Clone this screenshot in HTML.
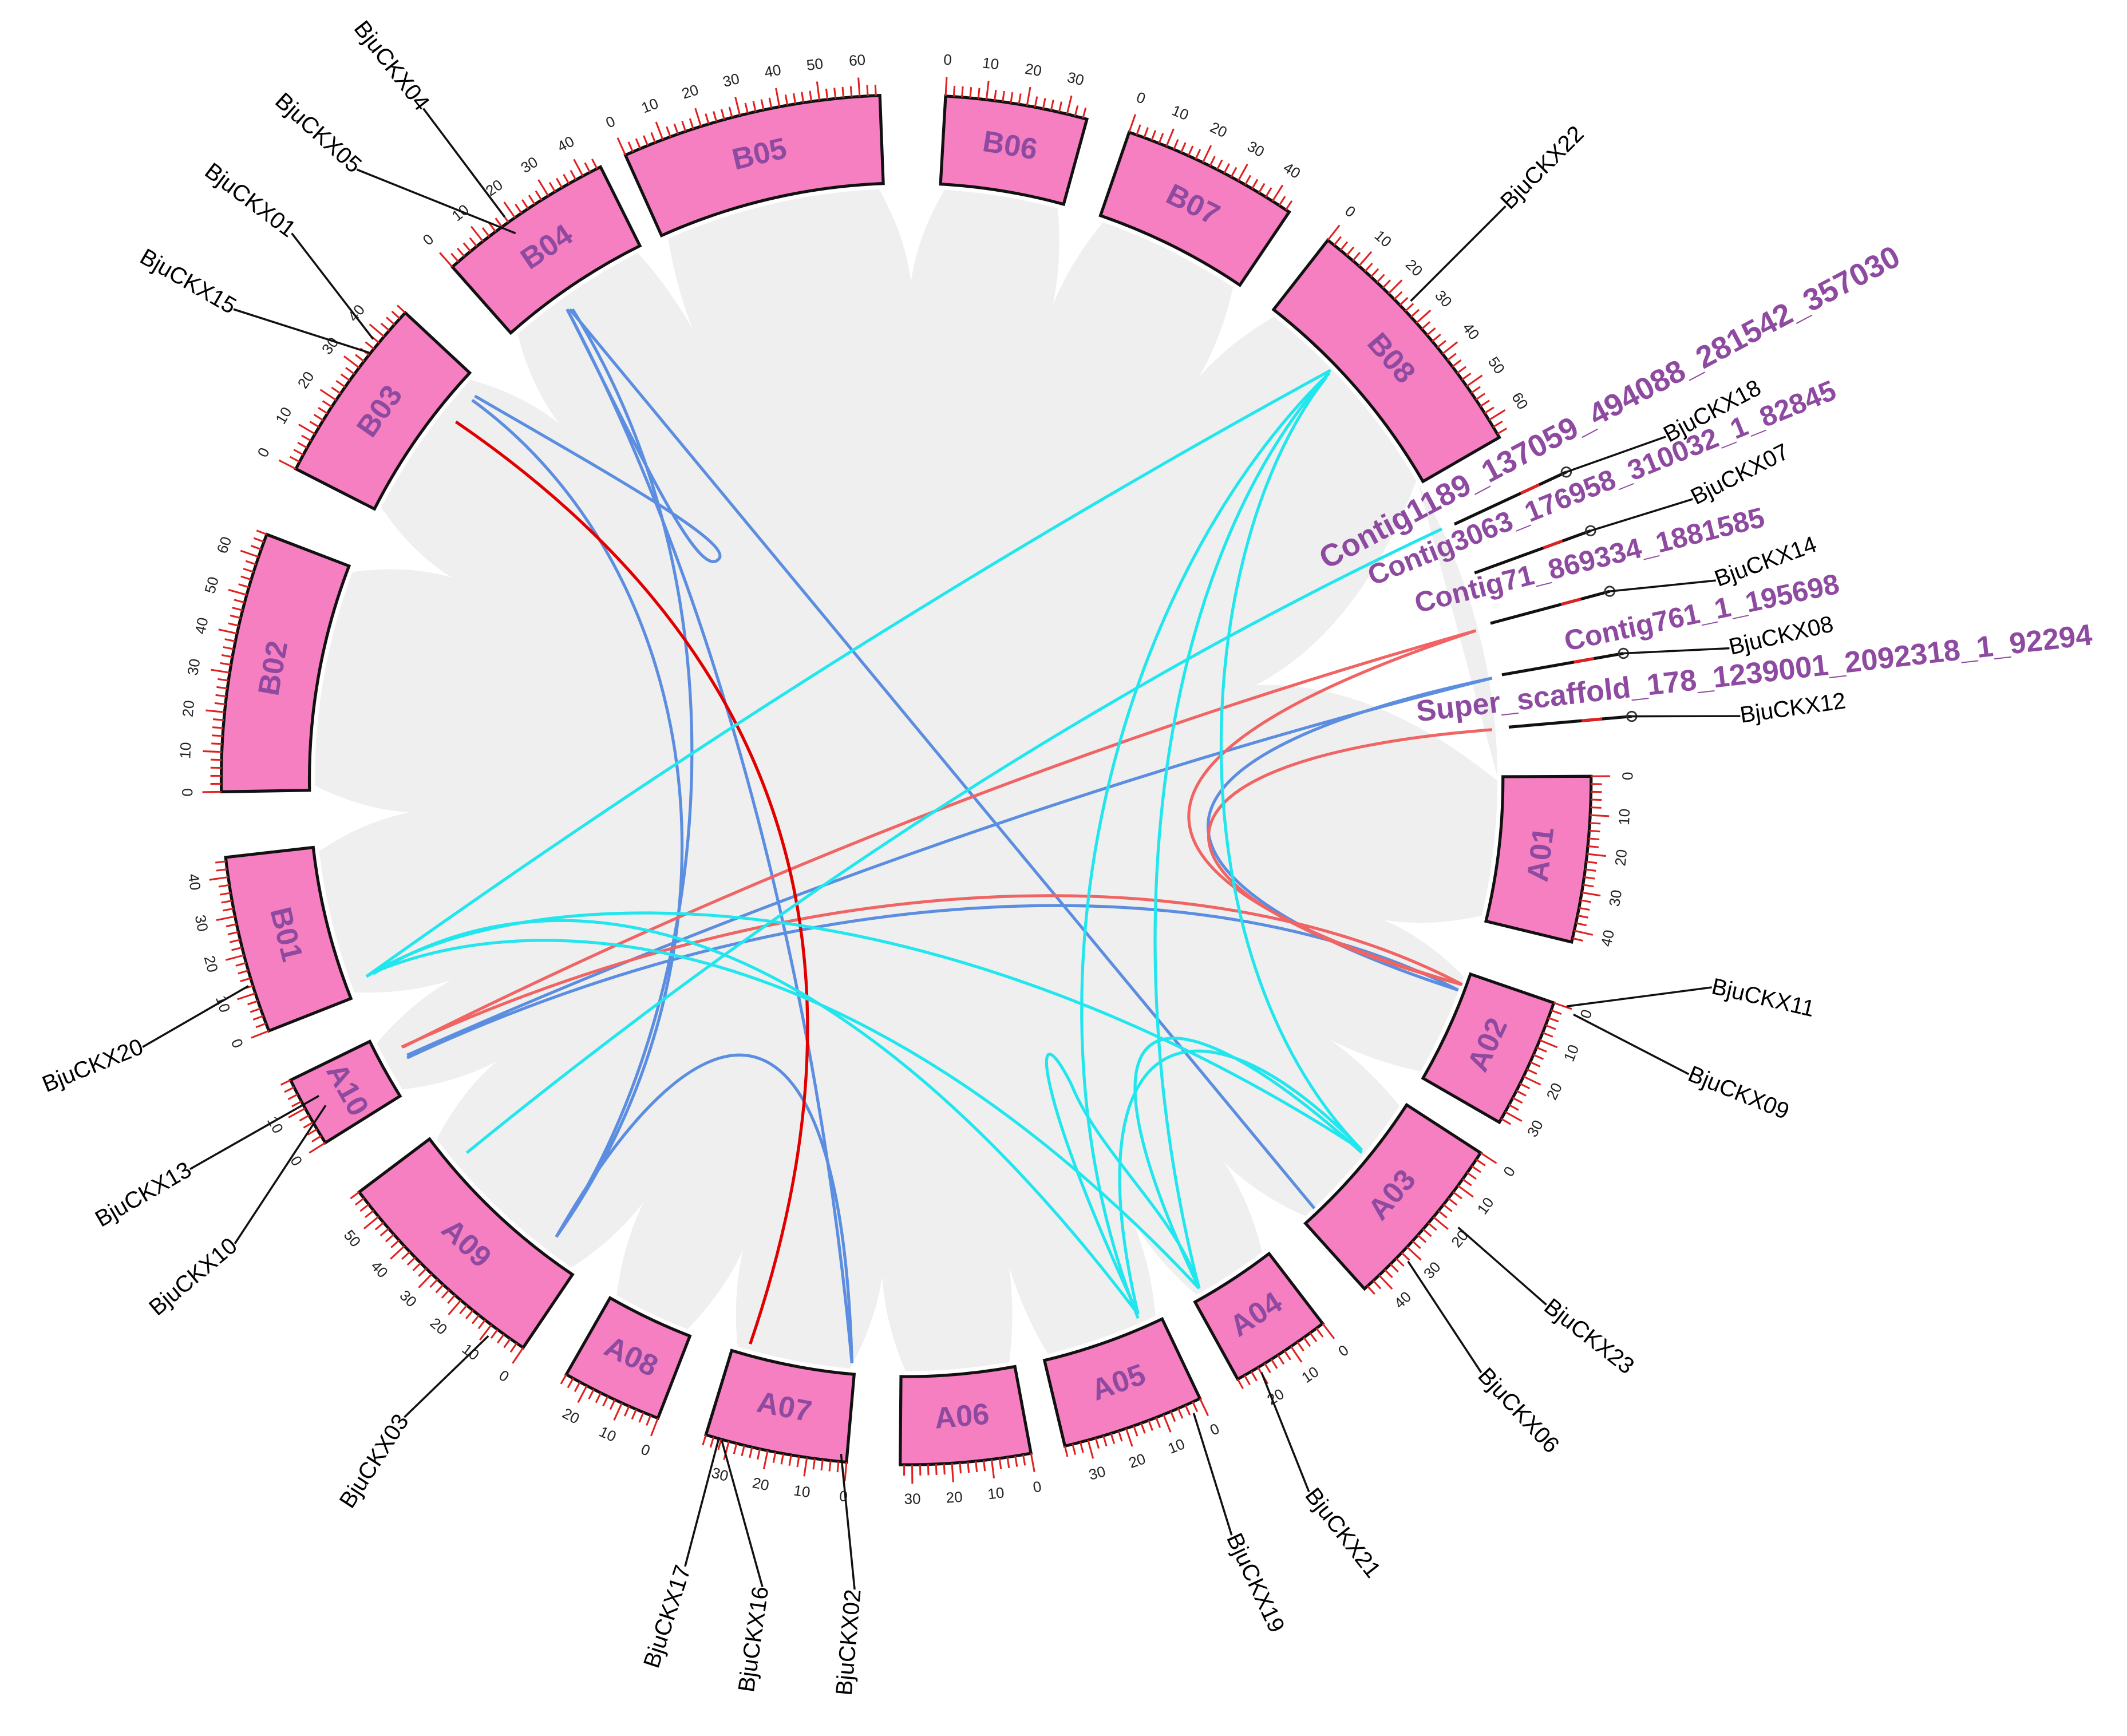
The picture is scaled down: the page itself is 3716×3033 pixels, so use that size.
<!DOCTYPE html>
<html><head><meta charset="utf-8"><style>
html,body{margin:0;padding:0;background:#fff;}
svg{display:block;}
text{font-family:"Liberation Sans",Arial,sans-serif;}
</style></head><body>
<svg id="s" xmlns="http://www.w3.org/2000/svg" width="3716" height="3033" viewBox="0 0 1568 1280">
<rect width="1568" height="1280" fill="#fff"/>
<circle cx="668" cy="575" r="436" fill="#efefef"/>
<g id="wedges"></g>
<g id="links" fill="none" stroke-width="2.2">
<g stroke="#5b8de0">
<path d="M420,228 L969,891"/>
<path d="M418,228 C520,420 600,700 628,1005"/>
<path d="M350,292 C450,350 540,400 530,412 C515,430 470,330 418,228"/>
<path d="M348,295 C520,420 560,700 410,912"/>
<path d="M422,228 C560,450 520,750 410,912"/>
<path d="M410,912 C520,720 620,720 628,1005"/>
<path d="M300,778 Q700,600 1100,500"/>
<path d="M1075,730 C900,640 600,640 300,780"/>
<path d="M1100,500 C820,560 830,650 1075,730"/>
</g>
<g stroke="#f06464">
<path d="M1088,465 Q680,580 297,772"/>
<path d="M1088,465 C800,560 815,650 1078,726"/>
<path d="M1078,726 C900,632 600,632 296,772"/>
<path d="M1100,538 C820,560 830,660 1078,726"/>
</g>
<path stroke="#e00000" d="M336,311 Q700,560 553,991"/>
<g stroke="#22e6ee">
<path d="M981,273 Q620,470 270,720"/>
<path d="M1063,390 Q700,560 344,850"/>
<path d="M980,275 C830,420 740,720 839,972"/>
<path d="M980,275 C850,420 820,700 884,950"/>
<path d="M978,278 C880,400 860,700 1004,848"/>
<path d="M839,969 C760,800 760,740 790,800 C810,850 870,900 884,950"/>
<path d="M884,950 C780,730 860,720 1004,850"/>
<path d="M839,969 C790,760 880,720 1004,848"/>
<path d="M270,720 C400,640 700,650 1004,848"/>
<path d="M275,718 C420,630 620,680 839,969"/>
<path d="M280,715 C420,660 650,700 884,950"/>
</g>
</g>
<g id="chr"></g>
<g id="lab"></g>
</svg>
<script>
var NS="http://www.w3.org/2000/svg",cx=668,cy=575,R1=440,R2=505;
function P(r,a){a=a*Math.PI/180;return [cx+r*Math.sin(a),cy-r*Math.cos(a)];}
function el(t,at,par,txt){var e=document.createElementNS(NS,t);for(var k in at)e.setAttribute(k,at[k]);if(txt!=null)e.textContent=txt;document.getElementById(par).appendChild(e);return e;}
var C=[["B05",-13.2,22,65],["B06",9.3,12,35],["B07",26.5,15,45],["B08",49,22,65],["A01",96.7,14,43],["A02",114.5,11,33],["A03",130.5,15,45],["A04",146.8,8.5,26],["A05",160.6,12,36],["A06",175,11,33],["A07",191,12,36],["A08",205.5,8.5,26],["A09",223.5,19,58],["A10",241,6,18],["B01",256,15,45],["B02",280,22,66],["B03",305,16,48],["B04",326,15,45]];
var ends=[];
C.forEach(function(c){
 var a0=c[1]-c[2]/2,a1=c[1]+c[2]/2;ends.push([a0,a1]);
 var p=P(R2,a0),q=P(R2,a1),r=P(R1,a1),s=P(R1,a0);
 el("path",{d:"M"+p+" A"+R2+","+R2+" 0 0 1 "+q+" L"+r+" A"+R1+","+R1+" 0 0 0 "+s+" Z",fill:"#f57fc0",stroke:"#111","stroke-width":2.2},"chr");
 var k=c[2]/c[3];
 for(var m=0;m<=c[3];m+=2){var a=a0+m*k;var big=(m%10==0);var u=P(R2,a),v=P(R2+(big?14:8),a);
  el("line",{x1:u[0],y1:u[1],x2:v[0],y2:v[1],stroke:"#e02020","stroke-width":1.3},"chr");
  if(big){var t=P(R2+26,a);var rot=(a>90&&a<270)||(a<-90)?a-180:a;if(a>270)rot=a;
   el("text",{x:t[0],y:t[1],"font-size":11,"text-anchor":"middle","dominant-baseline":"middle",transform:"rotate("+rot+" "+t[0]+" "+t[1]+")",fill:"#222"},"chr",""+m);}
 }
 var lp=P((R1+R2)/2,c[1]);var lr=(c[1]>90&&c[1]<270)?c[1]-180:c[1];
 el("text",{x:lp[0],y:lp[1],"font-size":22,"font-weight":"bold",fill:"#8e4aa0","text-anchor":"middle","dominant-baseline":"middle",transform:"rotate("+lr+" "+lp[0]+" "+lp[1]+")"},"chr",c[0]);
});
var gaps=[];for(var i=0;i<ends.length;i++){var e1=ends[i][1],s2=ends[(i+1)%ends.length][0];if(s2<e1)s2+=360;gaps.push([e1,s2]);}
gaps.forEach(function(g){var m=(g[0]+g[1])/2,d=(g[1]-g[0])/2+0.5;var big=g[1]-g[0]>20;var depth=big?170:70;
 var a=P(437,m-d),b=P(437-depth,m),c2=P(437,m+d);
 el("path",{d:"M"+a+" Q"+P(437-depth*0.5,m-d*0.2)+" "+b+" Q"+P(437-depth*0.5,m+d*0.2)+" "+c2+" Z",fill:"#fff"},"wedges");});
var K=[[65,"BjuCKX18",1228,322,-28],[70,"BjuCKX07",1248,368,-27],[75,"BjuCKX14",1265,428,-20],[80,"BjuCKX08",1275,478,-13],[85,"BjuCKX12",1283,528,-8]];
K.forEach(function(k){var a=P(446,k[0]),b=P(537,k[0]),r=P(500,k[0]),r2=P(515,k[0]);
 el("line",{x1:a[0],y1:a[1],x2:b[0],y2:b[1],stroke:"#111","stroke-width":2.2},"lab");
 el("line",{x1:r[0],y1:r[1],x2:r2[0],y2:r2[1],stroke:"#e02020","stroke-width":2.2},"lab");
 el("circle",{cx:b[0],cy:b[1],r:3.5,fill:"none",stroke:"#333","stroke-width":1.2},"lab");
 el("line",{x1:b[0],y1:b[1],x2:k[2],y2:k[3],stroke:"#111","stroke-width":1.5},"lab");
 el("text",{x:k[2],y:k[3]+5,"font-size":17,transform:"rotate("+k[4]+" "+k[2]+" "+k[3]+")"},"lab",k[1]);});
var PL=[["Contig1189_137059_494088_281542_357030",978,420,-28,23],["Contig3063_176958_310032_1_82845",1012,432,-22,21],["Contig71_869334_1881585",1045,452,-14,21],["Contig761_1_195698",1155,480,-12,21],["Super_scaffold_178_1239001_2092318_1_92294",1045,532,-6.5,22]];
PL.forEach(function(p){el("text",{x:p[1],y:p[2],"font-size":p[4],"font-weight":"bold",fill:"#8e4aa0",transform:"rotate("+p[3]+" "+p[1]+" "+p[2]+")"},"lab",p[0]);});
var G=[["BjuCKX04",372,160,312,80,52,"end"],["BjuCKX05",380,172,263,125,42,"end"],["BjuCKX01",275,250,215,172,37,"end"],["BjuCKX15",272,260,172,228,30,"end"],["BjuCKX22",1040,222,1110,152,-45,"start"],["BjuCKX20",183,727,105,772,-22,"end"],["BjuCKX13",235,808,140,862,-30,"end"],["BjuCKX10",240,815,173,917,-40,"end"],["BjuCKX03",360,985,298,1045,-57,"end"],["BjuCKX17",530,1060,505,1155,-72,"end"],["BjuCKX16",532,1062,562,1170,-82,"end"],["BjuCKX02",620,1072,630,1172,-85,"end"],["BjuCKX19",880,1042,908,1132,65,"start"],["BjuCKX21",930,1012,965,1100,52,"start"],["BjuCKX06",1038,930,1092,1012,47,"start"],["BjuCKX23",1075,905,1140,962,38,"start"],["BjuCKX09",1160,748,1245,792,22,"start"],["BjuCKX11",1155,742,1262,728,13,"start"]];
G.forEach(function(g){el("line",{x1:g[1],y1:g[2],x2:g[3],y2:g[4],stroke:"#111","stroke-width":1.5},"lab");
 el("text",{x:g[3],y:g[4],"font-size":17,"text-anchor":g[6],"dominant-baseline":"middle",transform:"rotate("+g[5]+" "+g[3]+" "+g[4]+")"},"lab",g[0]);});
</script>
</body></html>
